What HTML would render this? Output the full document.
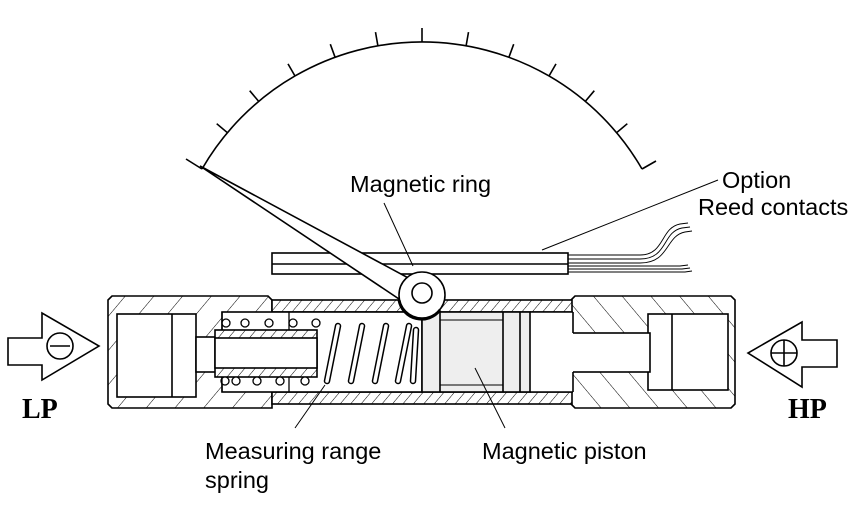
<!DOCTYPE html>
<html><head><meta charset="utf-8"><style>
html,body{margin:0;padding:0;background:#fff;}
svg{display:block}
text{font-family:"Liberation Sans",Arial,sans-serif;fill:#000}
</style></head><body>
<svg width="860" height="515" viewBox="0 0 860 515" xmlns="http://www.w3.org/2000/svg">
<defs>
<pattern id="hb" width="22" height="22" patternUnits="userSpaceOnUse" patternTransform="rotate(40)">
<rect width="22" height="22" fill="#fff"/><line x1="0" y1="0" x2="0" y2="22" stroke="#000" stroke-width="1"/></pattern>
<pattern id="hf" width="8" height="8" patternUnits="userSpaceOnUse" patternTransform="rotate(40)">
<rect width="8" height="8" fill="#fff"/><line x1="0" y1="0" x2="0" y2="8" stroke="#000" stroke-width="1"/></pattern>
<pattern id="hr" width="22" height="22" patternUnits="userSpaceOnUse" patternTransform="rotate(-40)">
<rect width="22" height="22" fill="#fff"/><line x1="0" y1="0" x2="0" y2="22" stroke="#000" stroke-width="1"/></pattern>
</defs>
<g stroke="#000" stroke-width="1.6" fill="none">
<path d="M202,169 A254,254 0 0 1 642,169"/>
<line x1="422" y1="42" x2="422" y2="28"/>
<line x1="466.1" y1="45.9" x2="468.5" y2="32.1"/>
<line x1="508.9" y1="57.3" x2="513.7" y2="44.2"/>
<line x1="549" y1="76" x2="556" y2="63.9"/>
<line x1="585.3" y1="101.4" x2="594.3" y2="90.7"/>
<line x1="616.6" y1="132.7" x2="627.3" y2="123.7"/>
<line x1="642" y1="169" x2="656" y2="161"/>
<line x1="377.9" y1="45.9" x2="375.5" y2="32.1"/>
<line x1="335.1" y1="57.3" x2="330.3" y2="44.2"/>
<line x1="295" y1="76" x2="288" y2="63.9"/>
<line x1="258.7" y1="101.4" x2="249.7" y2="90.7"/>
<line x1="227.4" y1="132.7" x2="216.7" y2="123.7"/>
<line x1="202" y1="169" x2="186" y2="159"/>
</g>
<g stroke="#000" fill="none">
<rect x="272" y="253" width="296" height="21" fill="#fff" stroke-width="1.6"/>
<line x1="272" y1="264" x2="568" y2="264" stroke-width="1.4"/>
<g stroke-width="0.9">
<path d="M568,255 L640,255 C665,255 660,228 680,224 L688,223"/>
<path d="M568,259 L640,259 C668,259 662,232 682,228 L690,227"/>
<path d="M568,263 L640,263 C670,263 665,236 685,232 L692,231"/>
<path d="M568,266 L680,266 L688,265"/>
<path d="M568,269 L682,269 L690,268"/>
<path d="M568,272 L685,272 L692,271"/>
</g>
<line x1="542" y1="250" x2="718" y2="180" stroke-width="1"/>
<line x1="384" y1="203" x2="413" y2="266" stroke-width="1"/>
</g>
<g stroke="#000" stroke-width="1.6">
<path d="M112,296 L268,296 L272,300 L272,408 L112,408 L108,404 L108,300 Z" fill="url(#hb)"/>
<path d="M575,296 L731,296 L735,300 L735,404 L731,408 L575,408 L571,404 L571,300 Z" fill="url(#hr)"/>
<rect x="272" y="300" width="300" height="12" fill="url(#hf)"/>
<rect x="272" y="392" width="300" height="12" fill="url(#hf)"/>
<rect x="117" y="314" width="79" height="83" fill="#fff"/>
<line x1="172" y1="314" x2="172" y2="397"/>
<rect x="196" y="337" width="20" height="35" fill="#fff"/>
<rect x="222" y="312" width="200" height="80" fill="#fff"/>
<rect x="215" y="330" width="102" height="47" fill="url(#hf)"/>
<rect x="215" y="338" width="102" height="30" fill="#fff"/>
<rect x="648" y="314" width="80" height="76" fill="#fff"/>
<line x1="672" y1="314" x2="672" y2="390"/>
<rect x="530" y="333" width="120" height="39" fill="#fff"/>
<rect x="530" y="312" width="43" height="80" fill="#fff" stroke="none"/>
<line x1="530" y1="312" x2="573" y2="312"/><line x1="530" y1="392" x2="573" y2="392"/>
<line x1="573" y1="312" x2="573" y2="333"/><line x1="573" y1="372" x2="573" y2="392"/>
<rect x="422" y="312" width="108" height="80" fill="#eee"/>
<line x1="440" y1="312" x2="440" y2="392"/>
<line x1="503" y1="312" x2="503" y2="392"/>
<line x1="520" y1="312" x2="520" y2="392"/>
<line x1="440" y1="320" x2="503" y2="320" stroke-width="1"/>
<line x1="440" y1="385" x2="503" y2="385" stroke-width="1"/>
</g>
<g stroke="#000" stroke-width="1.3" fill="#fff">
<circle cx="226" cy="323" r="4"/><circle cx="245" cy="323" r="4"/><circle cx="269" cy="323" r="4"/><circle cx="293" cy="323" r="4"/><circle cx="316" cy="323" r="4"/>
<circle cx="225" cy="381" r="4"/><circle cx="236" cy="381" r="4"/><circle cx="257" cy="381" r="4"/><circle cx="280" cy="381" r="4"/><circle cx="305" cy="381" r="4"/>
<line x1="222" y1="312" x2="222" y2="330"/><line x1="222" y1="377" x2="222" y2="392"/>
<line x1="289" y1="312" x2="289" y2="330"/><line x1="289" y1="377" x2="289" y2="392"/>
</g>
<g stroke="#000" stroke-width="6.5" stroke-linecap="round" fill="none">
<line x1="338" y1="326" x2="327" y2="381"/><line x1="362" y1="326" x2="351" y2="381"/>
<line x1="386" y1="326" x2="375" y2="381"/><line x1="409" y1="326" x2="398" y2="381"/>
<line x1="416" y1="330" x2="413" y2="381"/>
</g>
<g stroke="#fff" stroke-width="3.5" stroke-linecap="round" fill="none">
<line x1="338" y1="326" x2="327" y2="381"/><line x1="362" y1="326" x2="351" y2="381"/>
<line x1="386" y1="326" x2="375" y2="381"/><line x1="409" y1="326" x2="398" y2="381"/>
<line x1="416" y1="330" x2="413" y2="381"/>
</g>
<g stroke="#000" stroke-width="1.6">
<polygon points="200,166 414,281 402,301" fill="#fff"/>
<circle cx="422" cy="295" r="23" fill="#fff"/>
<path d="M399,300 A23,23 0 0 0 440,310" fill="none" stroke-width="3"/>
<circle cx="422" cy="293" r="10" fill="#fff"/>
</g>
<g stroke="#000" stroke-width="1">
<line x1="295" y1="428" x2="325" y2="385"/>
<line x1="505" y1="428" x2="475" y2="368"/>
</g>
<g stroke="#000" stroke-width="1.6" fill="#fff">
<path d="M8,338 L42,338 L42,313 L99,346 L42,380 L42,365 L8,365 Z"/>
<circle cx="60" cy="346" r="13"/>
<line x1="50" y1="346" x2="70" y2="346"/>
<path d="M837,340 L802,340 L802,322 L748,353 L802,387 L802,367 L837,367 Z"/>
<circle cx="784" cy="353" r="13"/>
<line x1="771" y1="353" x2="797" y2="353"/><line x1="784" y1="340" x2="784" y2="366"/>
</g>
<text x="350" y="192" font-size="23.5">Magnetic ring</text>
<text x="722" y="188" font-size="23.5">Option</text>
<text x="698" y="215" font-size="23.5">Reed contacts</text>
<text x="205" y="459" font-size="23.5">Measuring range</text>
<text x="205" y="488" font-size="23.5">spring</text>
<text x="482" y="459" font-size="23.5">Magnetic piston</text>
<text x="22" y="418" font-size="28" font-weight="bold" style="font-family:'Liberation Serif',serif">LP</text>
<text x="788" y="418" font-size="28" font-weight="bold" style="font-family:'Liberation Serif',serif">HP</text>
</svg>
</body></html>
